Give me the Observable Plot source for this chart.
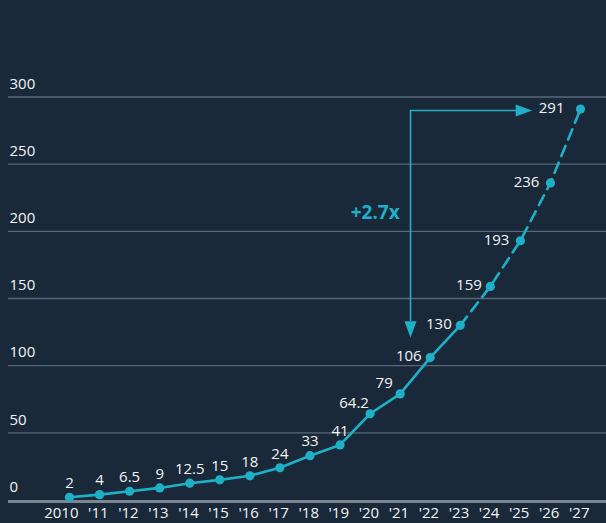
<!DOCTYPE html>
<html>
<head>
<meta charset="utf-8">
<script src="https://cdn.jsdelivr.net/npm/d3@7"></script>
<script src="https://cdn.jsdelivr.net/npm/@observablehq/plot@0.6"></script>
<style>
  html, body { margin: 0; padding: 0; background: #1a2939; }
  #chart svg { display: block; }
</style>
</head>
<body>
<div id="chart"></div>
<script>
// ---- data ----
const years = [2010, 2011, 2012, 2013, 2014, 2015, 2016, 2017, 2018, 2019, 2020, 2021, 2022, 2023, 2024, 2025, 2026, 2027];
const values = [2, 4, 6.5, 9, 12.5, 15, 18, 24, 33, 41, 64.2, 79, 106, 130, 159, 193, 236, 291];
const valueLabels = ["2", "4", "6.5", "9", "12.5", "15", "18", "24", "33", "41", "64.2", "79", "106", "130", "159", "193", "236", "291"];
const xTickLabels = ["2010", "'11", "'12", "'13", "'14", "'15", "'16", "'17", "'18", "'19", "'20", "'21", "'22", "'23", "'24", "'25", "'26", "'27"];
const yTicks = [0, 50, 100, 150, 200, 250, 300];
const lastActualYear = 2023;
const annotationFrom = {year: 2022, value: 106};
const annotationTo = {year: 2027, value: 291};
const annotationText = "+2.7x";

// ---- table ----
const rows = years.map((year, i) => ({year, value: values[i], label: valueLabels[i]}));
const actual = rows.filter(d => d.year <= lastActualYear);
const projected = rows.filter(d => d.year >= lastActualYear);
const arrowRow = [{x: annotationFrom.year, x2: annotationTo.year, from: annotationFrom.value, to: annotationTo.value, mid: (annotationFrom.value + annotationTo.value) / 2}];

const cyan = "#1fb0c7";
const grid = "#56687a";
const textColor = "#f2f4f6";
const font = "'Open Sans', 'Noto Sans', sans-serif";
const fs = 15;

const downTri = {draw(ctx) { ctx.moveTo(0, 0); ctx.lineTo(-6, -16.5); ctx.lineTo(6, -16.5); ctx.closePath(); }};
const rightTri = {draw(ctx) { ctx.moveTo(0, 0); ctx.lineTo(-16.5, -6); ctx.lineTo(-16.5, 6); ctx.closePath(); }};

const chart = Plot.plot({
  width: 606,
  height: 523,
  marginLeft: 69,
  marginRight: 26,
  marginTop: 96.5,
  marginBottom: 23.5,
  style: {background: "#1a2939", color: textColor, fontFamily: font, fontSize: fs + "px"},
  x: {domain: [2010, 2027], axis: null},
  y: {domain: [0, 300], axis: null},
  marks: [
    // gridlines
    Plot.ruleY(yTicks.filter(d => d > 0), {stroke: grid, strokeWidth: 1.3, insetLeft: -61, insetRight: -26}),
    Plot.ruleY([0], {stroke: "#7b8690", strokeWidth: 3, insetLeft: -61, insetRight: -26, dy: 1.5}),
    // y axis labels
    Plot.axisY({ticks: yTicks, tickSize: 0, tickPadding: 0, textAnchor: "start", dx: -60, dy: -13, fontSize: fs, fill: textColor, label: null, tickFormat: d => String(d)}),
    // x axis labels
    Plot.axisX({ticks: years, tickSize: 0, tickPadding: 7.5, textAnchor: "end", dx: 9, fontSize: fs, fill: textColor, label: null, tickFormat: d => xTickLabels[years.indexOf(d)]}),
    // annotation arrow
    Plot.ruleX(arrowRow, {x: "x", y1: "to", y2: "from", dx: -19.7, insetTop: 1.4, insetBottom: 36, stroke: cyan, strokeWidth: 1.6}),
    Plot.ruleY(arrowRow, {y: "to", x1: "x", x2: "x2", dy: 1.4, insetLeft: -19.7, insetRight: 64, stroke: cyan, strokeWidth: 1.6}),
    Plot.dot(arrowRow, {x: "x", y: "from", dx: -19.7, dy: -19.8, symbol: downTri, fill: cyan, stroke: "none"}),
    Plot.dot(arrowRow, {x: "x2", y: "to", dx: -48.3, dy: 1.4, symbol: rightTri, fill: cyan, stroke: "none"}),
    Plot.text(arrowRow, {x: "x", y: "mid", text: () => annotationText, dx: -30.5, dy: -20, textAnchor: "end", fill: cyan, fontSize: 19, fontWeight: "bold", fontFamily: font}),
    // series
    Plot.line(actual, {x: "year", y: "value", stroke: cyan, strokeWidth: 2.6}),
    Plot.line(projected, {x: "year", y: "value", stroke: cyan, strokeWidth: 2.6, strokeDasharray: "11,7"}),
    Plot.dot(rows, {x: "year", y: "value", r: 4.6, fill: cyan, stroke: "none"}),
    // value labels
    Plot.text(rows.filter(d => d.year <= 2019), {x: "year", y: "value", text: "label", dy: -14, fill: textColor, fontSize: fs}),
    Plot.text(rows.filter(d => d.year >= 2020 && d.year <= 2021), {x: "year", y: "value", text: "label", dx: -16, dy: -11, fill: textColor, fontSize: fs}),
    Plot.text(rows.filter(d => d.year >= 2022 && d.year <= 2024), {x: "year", y: "value", text: "label", textAnchor: "end", dx: -8.5, dy: -1, fill: textColor, fontSize: fs}),
    Plot.text(rows.filter(d => d.year >= 2025 && d.year <= 2026), {x: "year", y: "value", text: "label", textAnchor: "end", dx: -11, dy: -1, fill: textColor, fontSize: fs}),
    Plot.text(rows.filter(d => d.year >= 2027), {x: "year", y: "value", text: "label", textAnchor: "end", dx: -16, dy: -1, fill: textColor, fontSize: fs})
  ]
});
document.getElementById("chart").appendChild(chart);
</script>
</body>
</html>
